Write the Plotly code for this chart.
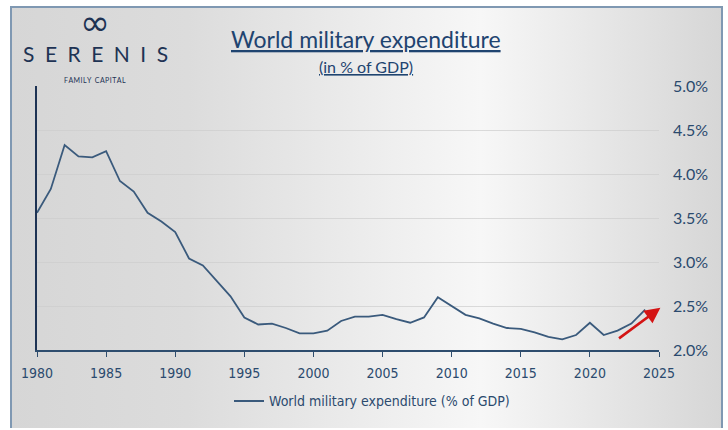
import base64
import plotly.graph_objects as go

years = list(range(1980, 2025))
values = [3.56, 3.83, 4.33, 4.20, 4.19, 4.26, 3.92, 3.80, 3.56, 3.46,
          3.34, 3.04, 2.96, 2.78, 2.61, 2.37, 2.29, 2.30, 2.25, 2.19,
          2.19, 2.22, 2.33, 2.38, 2.38, 2.40, 2.35, 2.31, 2.37, 2.60,
          2.50, 2.40, 2.36, 2.30, 2.25, 2.24, 2.20, 2.15, 2.12, 2.17,
          2.31, 2.17, 2.22, 2.30, 2.46]
x_ticks = [1980, 1985, 1990, 1995, 2000, 2005, 2010, 2015, 2020, 2025]
y_ticks = [2.0, 2.5, 3.0, 3.5, 4.0, 4.5, 5.0]
y_tick_labels = ["2.0%", "2.5%", "3.0%", "3.5%", "4.0%", "4.5%", "5.0%"]
series_name = "World military expenditure (% of GDP)"
title = "World military expenditure"
subtitle = "(in % of GDP)"
arrow_start = (2022.0, 2.12)
arrow_end = (2025.1, 2.48)

W, H = 728, 430
L, R, T, B = 37, 659, 86, 353


def px(X):
    return (X - L) / (R - L)


def py(Y):
    return (B - Y) / (B - T)


NAVY = "#1e3354"
LINE = "#3a5a7c"
TXT = "#2b4a6e"

# background gradient panel with border (frame)
fx0, fy0, fx1, fy1 = 10, 5, 723, 432
fw, fh = fx1 - fx0, fy1 - fy0
svg = f'''<svg xmlns="http://www.w3.org/2000/svg" width="{fw}" height="{fh}" viewBox="0 0 {fw} {fh}" preserveAspectRatio="none">
<defs><linearGradient id="g" x1="0" y1="0" x2="1" y2="0">
<stop offset="0" stop-color="#d6d6d6"/>
<stop offset="0.25" stop-color="#dcdcdc"/>
<stop offset="0.66" stop-color="#f7f7f7"/>
<stop offset="1" stop-color="#d6d6d6"/>
</linearGradient></defs>
<rect x="0" y="0" width="{fw}" height="{fh}" fill="url(#g)"/>
<path d="M1 {fh} L1 1 L{fw-1} 1 L{fw-1} {fh}" fill="none" stroke="#7f98b2" stroke-width="2"/>
</svg>'''
src = "data:image/svg+xml;base64," + base64.b64encode(svg.encode()).decode()

fig = go.Figure()
fig.add_trace(go.Scatter(
    x=years, y=values, mode="lines", name=series_name,
    line=dict(color=LINE, width=1.8),
    showlegend=True,
))

fig.add_annotation(
    x=arrow_end[0], y=arrow_end[1], ax=arrow_start[0], ay=arrow_start[1],
    xref="x", yref="y", axref="x", ayref="y",
    text="", showarrow=True, arrowhead=2, arrowsize=1.2, arrowwidth=2.6,
    arrowcolor="#d41414",
)

annots = [
    dict(text="∞", X=95, Y=22, size=36, color=NAVY, family="DejaVu Sans"),
    dict(text="S\u2002E\u2002R\u2002E\u2002N\u2002I\u2002S", X=95, Y=53, size=21, color=NAVY, family="Lato"),
    dict(text="F\u200aA\u200aM\u200aI\u200aL\u200aY\u2002C\u200aA\u200aP\u200aI\u200aT\u200aA\u200aL",
         X=95, Y=80, size=7, color=NAVY, family="Lato"),
    dict(text=title, X=366, Y=38, size=23, color="#1f4470", family="Lato", under=True),
    dict(text=subtitle, X=366, Y=66, size=16, color="#1f4470", family="Lato", under=True),
]
for a in annots:
    font = dict(size=a["size"], color=a["color"], family=a["family"])
    if a.get("under"):
        font["lineposition"] = "under"
    fig.add_annotation(
        text=a["text"], x=px(a["X"]), y=py(a["Y"]), xref="paper", yref="paper",
        xanchor="center", yanchor="middle", showarrow=False, font=font,
    )

fig.add_layout_image(dict(
    source=src, xref="paper", yref="paper",
    x=px(fx0), y=py(fy0), sizex=px(fx1) - px(fx0), sizey=py(fy0) - py(fy1),
    xanchor="left", yanchor="top", sizing="stretch", layer="below",
))

fig.update_layout(
    width=W, height=H,
    margin=dict(l=L, r=W - R, t=T, b=H - B),
    paper_bgcolor="white", plot_bgcolor="rgba(0,0,0,0)",
    showlegend=True,
    legend=dict(orientation="h", x=px(372), y=py(405), xanchor="center", yanchor="middle",
                font=dict(size=14, color=TXT, family="Liberation Sans Narrow, DejaVu Sans Condensed, sans-serif"),
                bgcolor="rgba(0,0,0,0)"),
    xaxis=dict(range=[1980, 2025], tickvals=x_ticks, ticktext=[str(v) for v in x_ticks],
               showgrid=False, zeroline=False, showline=True, linecolor="#2e4d6e", linewidth=1.5,
               ticks="outside", ticklen=5, tickcolor="#2e4d6e", tickwidth=1, ticklabelstandoff=4,
               tickfont=dict(size=14, color=TXT, family="Liberation Sans Narrow, DejaVu Sans Condensed, sans-serif")),
    yaxis=dict(range=[2, 5], side="right", tickvals=y_ticks, ticktext=y_tick_labels,
               showgrid=True, gridcolor="rgba(205,205,205,0.7)", gridwidth=1, zeroline=False,
               showline=False, ticks="", ticklabelstandoff=13,
               tickfont=dict(size=16, color=TXT, family="Lato")),
    yaxis2=dict(range=[2, 5], overlaying="y", side="left", showline=True, linecolor=NAVY, linewidth=2,
                showgrid=False, zeroline=False, showticklabels=False, ticks=""),
)
fig.add_trace(go.Scatter(x=[1980], y=[2], yaxis="y2", mode="markers", marker=dict(opacity=0),
                         showlegend=False, hoverinfo="skip"))

fig.write_html("out.html")
